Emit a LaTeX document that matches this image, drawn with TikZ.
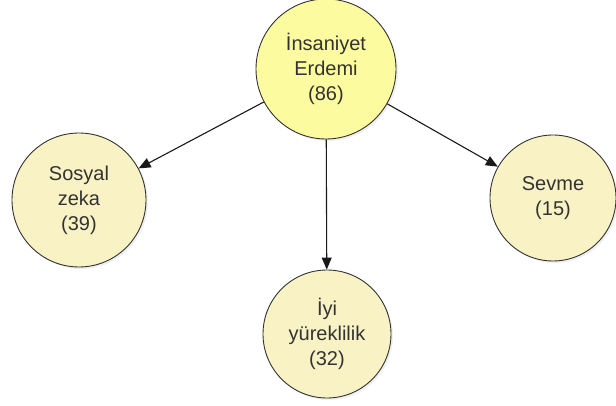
\documentclass[tikz,border=0pt]{standalone}
\usepackage{fontspec}
\setmainfont{Liberation Sans}
\usetikzlibrary{arrows.meta,shadows}
\definecolor{topfill}{HTML}{FDFB9F}
\definecolor{subfill}{HTML}{F8F2C4}
\definecolor{txt}{HTML}{333333}
\tikzset{
  circ/.style={circle, draw=black!80, line width=0.9pt, minimum size=#1, inner sep=0pt,
    align=center, font=\fontsize{20}{25}\selectfont, text=txt,
    drop shadow={opacity=0.12, shadow xshift=2pt, shadow yshift=-2pt}},
  conn/.style={draw=black!90, line width=1.1pt, -{Triangle[length=12pt,width=10pt]}}
}
\begin{document}
\begin{tikzpicture}[x=1pt,y=-1pt]
\useasboundingbox (0,0) rectangle (616,406);
\node[circ=140pt, fill=topfill] (top) at (326,69) {İnsaniyet\\Erdemi\\(86)};
\node[circ=134pt, fill=subfill] (soz) at (79,200) {Sosyal\\zeka\\(39)};
\node[circ=126pt, fill=subfill] (sev) at (553,198) {Sevme\\(15)};
\node[circ=128pt, fill=subfill] (iyi) at (327,334) {İyi\\yüreklilik\\(32)};
\draw[conn] (top) -- (soz);
\draw[conn] (top) -- (iyi);
\draw[conn] (top) -- (sev);
\end{tikzpicture}
\end{document}
